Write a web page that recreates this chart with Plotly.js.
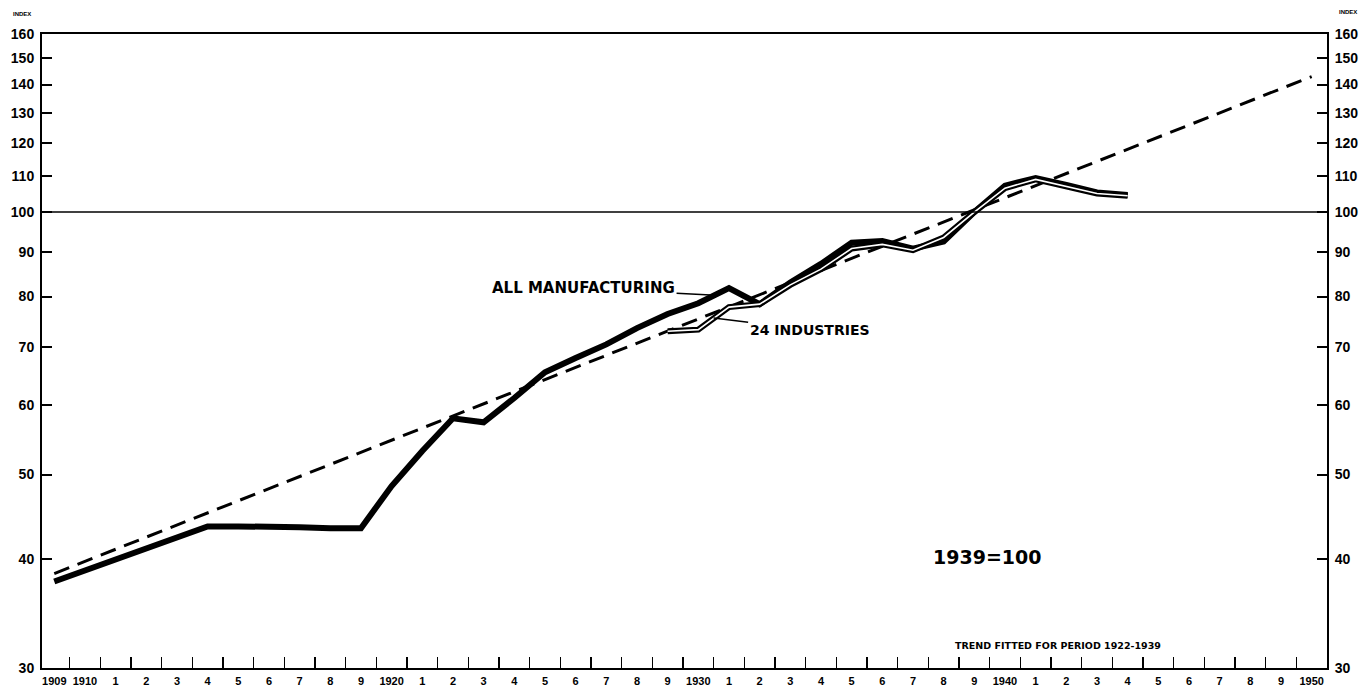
<!DOCTYPE html>
<html><head><meta charset="utf-8">
<script src="https://cdn.plot.ly/plotly-3.0.1.min.js"></script>
<style>html,body{margin:0;padding:0;background:#fff;}#chart{width:1366px;height:695px;}</style>
</head><body><div id="chart"></div>
<script>
// All manufacturing index (1939=100)
const amYears = [1909,1910,1911,1912,1913,1914,1915,1916,1917,1918,1919,1920,1921,1922,1923,1924,1925,1926,1927,1928,1929,1930,1931,1932,1933,1934,1935,1936,1937,1938,1939,1940,1941,1942,1943,1944];
const amValues = [37.7,38.8,39.9,41.0,42.3,43.6,43.6,43.6,43.5,43.4,43.4,48.5,53.2,58.0,57.4,61.2,65.5,68.0,70.5,73.6,76.4,78.6,81.8,78.4,83.0,87.2,92.2,92.6,90.8,92.5,100,107.2,109.4,107.4,105.3,104.6];
// 24 industries
const indYears = [1929,1930,1931,1932,1933,1934,1935,1936,1937,1938,1939,1940,1941,1942,1943,1944];
const indValues = [73.0,73.3,77.8,78.4,82.5,86.0,90.8,91.8,90.4,93.5,100,106.5,109.0,107.0,105.0,104.4];
// Trend fitted for period 1922-1939 (end points)
const trendYears = [1909,1950];
const trendValues = [38.5,143];
// Axis ticks
const labelYears = [1909,1910,1911,1912,1913,1914,1915,1916,1917,1918,1919,1920,1921,1922,1923,1924,1925,1926,1927,1928,1929,1930,1931,1932,1933,1934,1935,1936,1937,1938,1939,1940,1941,1942,1943,1944,1945,1946,1947,1948,1949,1950];
const xTickText = ["1909","1910","1","2","3","4","5","6","7","8","9","1920","1","2","3","4","5","6","7","8","9","1930","1","2","3","4","5","6","7","8","9","1940","1","2","3","4","5","6","7","8","9","1950"];
const yTickValues = [30,40,50,60,70,80,90,100,110,120,130,140,150,160];

const boundaryTicks = labelYears.slice(0,-1).map(y => y + 0.5);
const FONT = "Liberation Sans, Arial, sans-serif";
const WIDE = "DejaVu Sans, sans-serif";
const L = Math.log10;

const traces = [
  {x: trendYears, y: trendValues, mode:'lines', line:{color:'#000', width:3, dash:'16px,9px'}, hoverinfo:'skip'},
  {x: amYears, y: amValues, mode:'lines', line:{color:'#000', width:6}, name:'All manufacturing'},
  {x: indYears, y: indValues, mode:'lines', line:{color:'#000', width:6}, name:'24 industries'},
  {x: indYears, y: indValues, mode:'lines', line:{color:'#fff', width:1.6}, hoverinfo:'skip'},
  {x: trendYears, y: trendValues, yaxis:'y2', mode:'lines', opacity:0, line:{width:0}, hoverinfo:'skip'}
];

const yAxisCommon = {
  type:'log', range:[L(30), L(160)],
  tickmode:'array', tickvals: yTickValues, ticktext: yTickValues.map(String),
  ticks:'inside', ticklen:10, tickwidth:2, tickcolor:'#000',
  showline:true, linewidth:2, linecolor:'#000', showgrid:false, zeroline:false,
  tickfont:{family:FONT, size:14, color:'#000', weight:'bold'},
  ticklabelstandoff:3, fixedrange:true
};

const layout = {
  width:1366, height:695,
  margin:{l:42, r:39, t:34, b:27},
  paper_bgcolor:'#fff', plot_bgcolor:'#fff',
  showlegend:false,
  xaxis:{
    range:[1908.6, 1950.5],
    tickmode:'array', tickvals: labelYears, ticktext: xTickText, ticks:'',
    minor:{tickmode:'array', tickvals: boundaryTicks, ticks:'inside', ticklen:11, tickwidth:1.5, tickcolor:'#000', showgrid:false},
    showline:true, linewidth:2, linecolor:'#000', mirror:true, showgrid:false, zeroline:false,
    tickfont:{family:FONT, size:11, color:'#000', weight:'bold'},
    ticklabelstandoff:2
  },
  yaxis: Object.assign({}, yAxisCommon, {side:'left'}),
  yaxis2: Object.assign({}, yAxisCommon, {side:'right', overlaying:'y', matches:'y'}),
  shapes:[
    {type:'line', xref:'paper', x0:0, x1:1, yref:'y', y0:100, y1:100, line:{color:'#000', width:1.5}}
  ],
  annotations:[
    {text:'ALL MANUFACTURING', x:1930.4, y:L(80.3), xref:'x', yref:'y', ax:-127, ay:-7, showarrow:true, arrowhead:0, arrowwidth:1.5, arrowcolor:'#000', standoff:0, font:{family:WIDE, size:15, color:'#000', weight:'bold'}},
    {text:'24 INDUSTRIES', x:1930.5, y:L(75.6), xref:'x', yref:'y', ax:96, ay:12, showarrow:true, arrowhead:0, arrowwidth:1.5, arrowcolor:'#000', standoff:0, font:{family:WIDE, size:14, color:'#000', weight:'bold'}},
    {text:'1939=100', x:1939.4, y:L(40.2), xref:'x', yref:'y', showarrow:false, font:{family:WIDE, size:19, color:'#000', weight:'bold'}},
    {text:'TREND FITTED FOR PERIOD 1922-1939', x:0.791, y:0.036, xref:'paper', yref:'paper', xanchor:'center', yanchor:'middle', showarrow:false, font:{family:WIDE, size:9.5, color:'#000', weight:'bold'}},
    {text:'INDEX', x:-0.0156, y:1.031, xref:'paper', yref:'paper', xanchor:'center', yanchor:'middle', showarrow:false, font:{family:FONT, size:6, color:'#000', weight:'bold'}},
    {text:'INDEX', x:1.0163, y:1.034, xref:'paper', yref:'paper', xanchor:'center', yanchor:'middle', showarrow:false, font:{family:FONT, size:6, color:'#000', weight:'bold'}}
  ]
};

Plotly.newPlot('chart', traces, layout, {displayModeBar:false, staticPlot:true});
</script>
</body></html>
